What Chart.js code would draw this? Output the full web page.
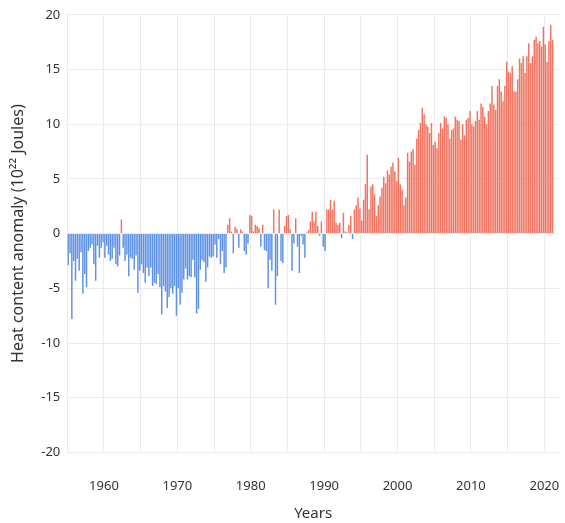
<!DOCTYPE html>
<html lang="en">

<head>
    <meta charset="UTF-8">
    <title>Ocean heat content</title>
    <script src="https://cdn.jsdelivr.net/npm/chart.js"></script>
    <style>
        html, body { margin: 0; padding: 0; background: #fff; }
        .Grafico { width: 565px; height: 523px; }
    </style>
</head>

<body>
    <div class="Grafico">
        <canvas id="dados" width="565" height="523"></canvas>
    </div>
</body>

</html>
<script>
// first year of the record, one row per year below (Q1..Q4)
const primeiroAno = 1955;

// heat content anomaly, 10^22 J
const anomalia = [
    [-2.9, -1.8, -7.8, -2.5],   // 1955
    [-4.3, -2.3, -3.4, -1.7],
    [-5.5, -3.7, -4.9, -1.6],
    [-1.3, -1.0, -2.8, -4.3],
    [-1.1, -2.2, -1.3, -0.8],
    [-2.2, -1.1, -1.9, -2.5],   // 1960
    [-2.3, -1.3, -2.8, -3.0],
    [-2.0, 1.3, -1.3, -2.5],
    [-1.9, -3.9, -2.2, -2.3],
    [-3.3, -2.0, -5.4, -3.4],
    [-2.8, -3.6, -4.5, -3.1],   // 1965
    [-3.9, -3.1, -4.8, -4.5],
    [-4.6, -3.7, -4.9, -7.4],
    [-4.8, -5.3, -6.8, -5.8],
    [-5.0, -5.5, -4.8, -7.5],
    [-5.0, -6.5, -5.4, -4.2],   // 1970
    [-3.2, -4.2, -3.9, -4.0],
    [-2.4, -4.0, -7.3, -6.9],
    [-3.3, -2.4, -2.6, -4.4],
    [-3.1, -2.1, -2.2, -2.1],
    [-1.0, -2.2, -0.5, -2.8],   // 1975
    [-1.6, -3.6, -3.1, 0.8],
    [1.4, 0.2, -1.8, 0.6],
    [0.4, -1.3, 0.4, 0.2],
    [-1.6, -1.9, -0.9, 1.7],
    [1.6, 0.2, 0.8, 0.7],       // 1980
    [0.5, -1.2, 0.8, -1.5],
    [-1.6, -5.0, -2.4, -3.4],
    [2.2, -6.5, -3.9, 2.2],
    [-2.5, -2.7, 0.7, 1.6],
    [1.7, 0.4, -3.4, -0.9],     // 1985
    [1.4, -1.2, -3.6, -0.2],
    [-1.0, -2.2, 0.1, 0.3],
    [1.1, 2.0, 1.1, 2.0],
    [0.7, -0.2, 1.1, -1.2],
    [-1.6, 2.2, 2.2, 3.1],      // 1990
    [2.2, 3.0, 1.0, 0.8],
    [1.0, -0.4, 1.9, 0.2],
    [0.1, 0.8, 1.6, -0.5],
    [2.2, 2.6, 3.3, 2.3],
    [1.2, 3.1, 4.5, 7.2],       // 1995
    [2.2, 4.3, 4.5, 3.6],
    [1.6, 2.6, 3.4, 4.2],
    [5.2, 4.6, 5.8, 5.4],
    [6.1, 6.5, 5.7, 4.8],
    [6.9, 4.5, 4.0, 2.6],       // 2000
    [3.3, 7.4, 6.6, 7.5],
    [7.7, 6.3, 8.7, 9.5],
    [10.1, 11.5, 10.9, 10.0],
    [9.8, 9.2, 10.1, 8.1],
    [8.4, 7.8, 9.2, 10.1],      // 2005
    [9.6, 10.7, 10.6, 10.0],
    [8.7, 9.5, 9.6, 10.7],
    [10.4, 10.3, 8.6, 10.0],
    [9.0, 10.4, 10.6, 11.2],
    [10.0, 9.8, 10.3, 11.2],    // 2010
    [10.4, 11.9, 11.6, 10.7],
    [10.0, 11.2, 11.9, 13.5],
    [11.8, 11.3, 13.5, 14.1],
    [13.0, 12.1, 13.5, 15.7],
    [14.8, 14.7, 15.3, 13.0],   // 2015
    [13.0, 14.1, 16.0, 15.6],
    [16.2, 14.7, 16.2, 17.4],
    [15.6, 16.2, 17.7, 18.0],
    [17.4, 17.6, 17.1, 18.9],
    [17.3, 15.7, 17.6, 19.1],   // 2020
    [17.7]
];

const corPositivo = '#f1735f';
const corNegativo = '#5d91e5';

// linhas verticais da grade e anos com rótulo
const anosGrade = [1955, 1960, 1965, 1970, 1975, 1980, 1985, 1990, 1995, 2000, 2005, 2010, 2015, 2020];
const anosRotulados = [1960, 1970, 1980, 1990, 2000, 2010, 2020];

// montando os pontos: cada trimestre no meio do seu intervalo
let pontos = [];
let cores = [];
for (let a = 0; a < anomalia.length; a++) {
    for (let q = 0; q < anomalia[a].length; q++) {
        let v = anomalia[a][q];
        pontos.push({ x: primeiroAno + a + q * 0.25 + 0.125, y: v });
        cores.push(v >= 0 ? corPositivo : corNegativo);
    }
}

const fonteTexto = 'Noto Sans';
const corTexto = '#333';
const corGrade = '#ebebeb';

const config = {
    type: 'bar',
    data: {
        datasets: [{
            data: pontos,
            backgroundColor: cores,
            borderWidth: 0,
            categoryPercentage: 1,
            barPercentage: 0.8
        }]
    },
    options: {
        responsive: false,
        animation: false,
        layout: { padding: { top: 8, right: 6, left: 9, bottom: 0 } },
        plugins: {
            legend: { display: false },
            tooltip: { enabled: false }
        },
        scales: {
            x: {
                type: 'linear',
                min: 1955,
                max: 2022,
                offset: false,
                border: { display: false },
                grid: { color: corGrade, offset: false, drawTicks: true, tickLength: 26, tickColor: 'rgba(0,0,0,0)' },
                afterBuildTicks: (escala) => {
                    escala.ticks = anosGrade.map(v => ({ value: v }));
                },
                ticks: {
                    autoSkip: false,
                    maxRotation: 0,
                    padding: 0,
                    color: corTexto,
                    font: { family: fonteTexto, size: 13 },
                    callback: (v) => anosRotulados.includes(v) ? String(v) : ''
                },
                title: {
                    display: true,
                    text: 'Years',
                    color: corTexto,
                    padding: { top: 11, bottom: 0 },
                    font: { family: fonteTexto, size: 15 }
                }
            },
            y: {
                min: -20,
                max: 20,
                border: { display: false },
                grid: { color: corGrade, drawTicks: false },
                ticks: {
                    stepSize: 5,
                    padding: 7,
                    color: corTexto,
                    font: { family: fonteTexto, size: 13 }
                },
                title: {
                    display: true,
                    text: 'Heat content anomaly (10²² Joules)',
                    color: corTexto,
                    padding: { top: 0, bottom: 6 },
                    font: { family: fonteTexto, size: 16 }
                }
            }
        }
    }
};

let myChart = new Chart(document.getElementById('dados'), config);
</script>
